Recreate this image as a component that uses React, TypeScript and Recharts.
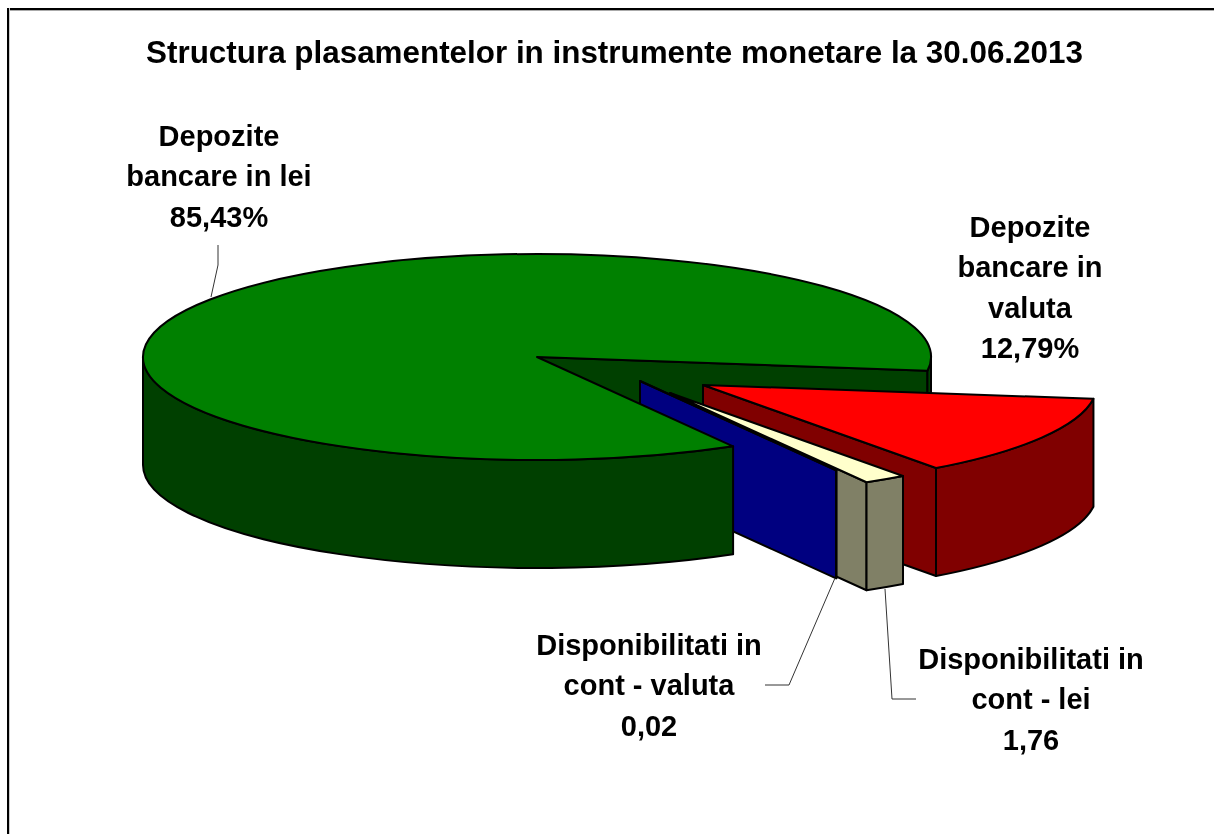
import React from "react";
import { PieChart, Pie } from "recharts";

const categories = ["Depozite bancare in valuta", "Disponibilitati in cont - lei", "Disponibilitati in cont - valuta", "Depozite bancare in lei"];
const values = [12.79, 1.76, 0.02, 85.43];
const valueLabels = ["12,79%", "1,76", "0,02", "85,43%"];
const titleText = "Structura plasamentelor in instrumente monetare la 30.06.2013";

const topColors = ["#FF0000", "#FFFFCC", "#0000FF", "#008000"];
const wallColors = ["#800000", "#808066", "#000080", "#004000"];

// how far each slice is pulled out of the pie, in px
const explodeX = [166, 133, 103, 0];
const explodeY = [28, 36, 24, 0];

// lines of each label, center x and first line baseline, leader polyline (chart px)
const labelLines = [
  ["Depozite", "bancare in", "valuta", valueLabels[0]],
  ["Disponibilitati in", "cont - lei", valueLabels[1]],
  ["Disponibilitati in", "cont - valuta", valueLabels[2]],
  ["Depozite", "bancare in lei", valueLabels[3]],
];
const labelX = [1022, 1023, 641, 211];
const labelY = [229, 661, 647, 138];
const leaders: (string | null)[] = [
  null,
  "877,581 884,691 908,691",
  "827,570 781,677 757,677",
  "210,237 210,257 203,289",
];

const CX = 524;
const CY = 344;
const RX = 394;
const SQUASH = 103 / 394;
const DEPTH = 108;
const LINE_GAP = 40.4;
const START_ANGLE = -7.7;
const FONT = "'Liberation Sans', Arial, sans-serif";

const data = categories.map((name, i) => ({ name, value: values[i] }));

const pt = (cx: number, cy: number, r: number, deg: number, dy = 0) => {
  const t = (deg * Math.PI) / 180;
  return [cx + r * Math.cos(t), cy + r * SQUASH * Math.sin(t) + dy];
};

// outer wall between two clockwise angles (deg, screen direction)
const wallPath = (cx: number, cy: number, r: number, a: number, b: number) => {
  const p0 = pt(cx, cy, r, a);
  const p1 = pt(cx, cy, r, b);
  const p2 = pt(cx, cy, r, b, DEPTH);
  const p3 = pt(cx, cy, r, a, DEPTH);
  const ry = r * SQUASH;
  return `M${p0} A${r} ${ry} 0 0 1 ${p1} L${p2} A${r} ${ry} 0 0 0 ${p3} Z`;
};

const stroke = { stroke: "#000", strokeWidth: 2, strokeLinejoin: "round" as const };

// back layer: what sits behind the pulled out slices
const BackShape = (props: any) => {
  const { cx, cy, outerRadius: r, endAngle, index } = props;
  if (explodeX[index] !== 0) return <g />;
  const end = -endAngle;
  const e = pt(cx, cy, r, end);
  const ed = pt(cx, cy, r, end, DEPTH);
  return (
    <g>
      <path d={`M${cx},${cy} L${e} L${ed} L${cx},${cy + DEPTH} Z`} fill={wallColors[index]} {...stroke} />
      <path d={wallPath(cx, cy, r, 360, end)} fill={wallColors[index]} {...stroke} />
    </g>
  );
};

const FrontShape = (props: any) => {
  const { cx, cy, outerRadius: r, startAngle, endAngle, index } = props;
  const x = cx + explodeX[index];
  const y = cy + explodeY[index];
  const a = -startAngle;
  const b = -endAngle;
  const s = pt(x, y, r, a);
  const e = pt(x, y, r, b);
  const ed = pt(x, y, r, b, DEPTH);
  const large = b - a > 180 ? 1 : 0;
  const pulled = explodeX[index] !== 0;
  const front = Math.min(b, 180);
  return (
    <g>
      {pulled && <path d={`M${x},${y} L${e} L${ed} L${x},${y + DEPTH} Z`} fill={wallColors[index]} {...stroke} />}
      <path d={wallPath(x, y, r, a, front)} fill={wallColors[index]} {...stroke} />
      <path
        d={`M${x},${y} L${s} A${r} ${r * SQUASH} 0 ${large} 1 ${e} Z`}
        fill={topColors[index]}
        {...stroke}
      />
    </g>
  );
};

const renderLabel = (props: any) => {
  const i = props.index;
  return (
    <g>
      {leaders[i] && <polyline points={leaders[i] as string} fill="none" stroke="#333" strokeWidth={1} />}
      {labelLines[i].map((line, k) => (
        <text
          key={k}
          x={labelX[i]}
          y={labelY[i] + k * LINE_GAP}
          textAnchor="middle"
          fontFamily={FONT}
          fontWeight="bold"
          fontSize={29}
          fill="#000"
        >
          {line}
        </text>
      ))}
    </g>
  );
};

// the frame only shows on the top and left, it runs off the page on the other two sides
const frameTop: React.CSSProperties = {
  position: "fixed", left: 7, right: 0, top: 8, height: 2, background: "#000", borderBottom: "1px solid #aaa",
};
const frameLeft: React.CSSProperties = {
  position: "fixed", left: 7, top: 8, bottom: 0, width: 2, background: "#000", borderRight: "1px solid #ccc",
};

export default function App() {
  return (
    <div style={{ width: 1198, height: 818, position: "relative" }}>
      <div style={frameTop} />
      <div style={frameLeft} />
      <PieChart width={1198} height={818}>
        <Pie
          data={data}
          dataKey="value"
          nameKey="name"
          cx={CX}
          cy={CY}
          outerRadius={RX}
          startAngle={START_ANGLE}
          endAngle={START_ANGLE - 360}
          shape={BackShape}
          stroke="none"
          isAnimationActive={false}
        />
        <Pie
          data={data}
          dataKey="value"
          nameKey="name"
          cx={CX}
          cy={CY}
          outerRadius={RX}
          startAngle={START_ANGLE}
          endAngle={START_ANGLE - 360}
          shape={FrontShape}
          label={renderLabel}
          labelLine={false}
          stroke="none"
          isAnimationActive={false}
        />
        <text x={606.5} y={55} textAnchor="middle" fontFamily={FONT} fontWeight="bold" fontSize={31.4} fill="#000">
          {titleText}
        </text>
      </PieChart>
    </div>
  );
}
